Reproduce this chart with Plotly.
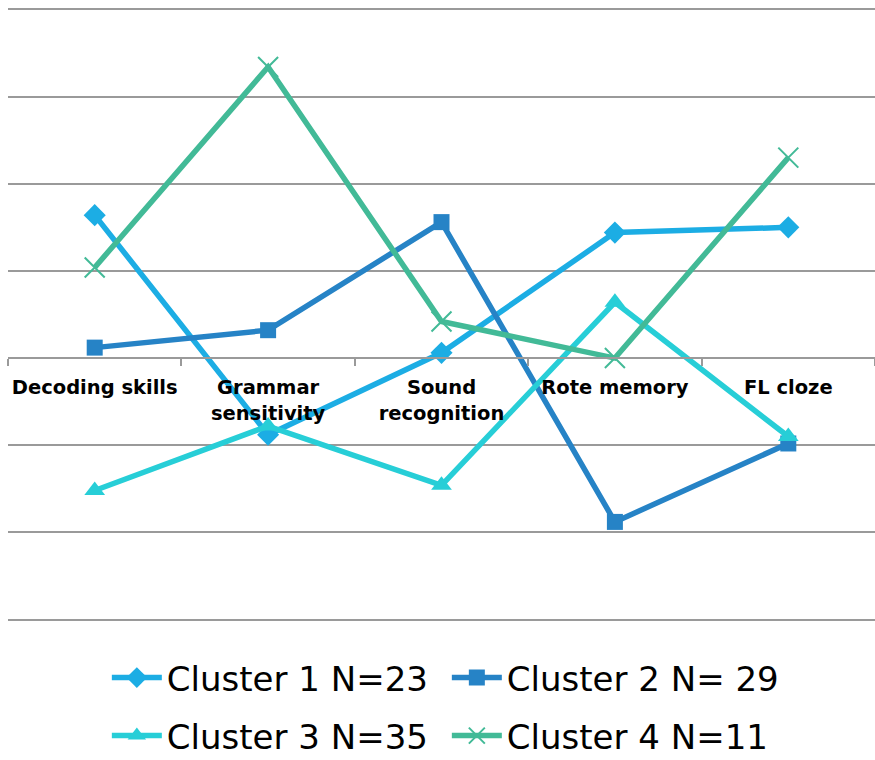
import plotly.graph_objects as go

categories = ["Decoding skills", "Grammar<br>sensitivity", "Sound<br>recognition", "Rote memory", "FL cloze"]
cluster1 = [0.82, -0.44, 0.03, 0.72, 0.75]
cluster2 = [0.06, 0.16, 0.78, -0.94, -0.49]
cluster3 = [-0.76, -0.39, -0.73, 0.32, -0.45]
cluster4 = [0.52, 1.67, 0.21, 0.0, 1.15]
names = ["Cluster 1 N=23", "Cluster 2 N= 29", "Cluster 3 N=35", "Cluster 4 N=11"]
colors = ["#1CADE4", "#2683C6", "#27CED7", "#42BA97"]
symbols = ["diamond", "square", "triangle-up", "x-thin"]
sizes = [17, 16, 18, 20]
legends = ["legend", "legend", "legend2", "legend2"]
series = [cluster1, cluster2, cluster3, cluster4]

fig = go.Figure()
for vals, name, col, sym, sz, lg in zip(series, names, colors, symbols, sizes, legends):
    marker = dict(symbol=sym, size=sz, color=col)
    if sym == "x-thin":
        marker["line"] = dict(color=col, width=2)
    fig.add_trace(go.Scatter(
        x=categories, y=vals, name=name, mode="lines+markers",
        line=dict(color=col, width=5.5), marker=marker, legend=lg,
    ))

ymin, ymax = -1.52, 2.02
legend_common = dict(orientation="h", x=0.114, xanchor="left", yanchor="middle",
                     xref="paper", yref="container",
                     font=dict(size=34, family="DejaVu Sans"), entrywidth=275,
                     entrywidthmode="pixels", itemwidth=50, bgcolor="rgba(0,0,0,0)")
fig.update_layout(
    width=875, height=760,
    margin=dict(l=8, r=0, t=6, b=137),
    paper_bgcolor="white", plot_bgcolor="white",
    font=dict(family="DejaVu Sans", color="black"),
    showlegend=True,
    legend=dict(y=1 - 678 / 760, **legend_common),
    legend2=dict(y=1 - 736 / 760, **legend_common),
    xaxis=dict(
        type="category", range=[-0.5, 4.5], anchor="free", position=(0 - ymin) / (ymax - ymin),
        automargin=False,
        showgrid=False, showline=True, linecolor="#9a9a9a", linewidth=2,
        ticks="outside", tickson="boundaries", ticklen=7, tickcolor="#9a9a9a", tickwidth=1.5,
        tickfont=dict(size=19.5, family="DejaVu Sans", color="black", weight="bold"),
        tickangle=0, ticklabelstandoff=12,
    ),
    yaxis=dict(
        range=[ymin, ymax], tickvals=[-1.5, -1.0, -0.5, 0, 0.5, 1.0, 1.5, 2.0],
        showgrid=True, gridcolor="#9a9a9a", gridwidth=2, automargin=False,
        zeroline=False, showticklabels=False, ticks="", showline=False,
    ),
)

fig.write_html("out.html", config={"displayModeBar": False},
               post_script="document.body.style.margin='0';document.body.style.overflow='hidden';")
